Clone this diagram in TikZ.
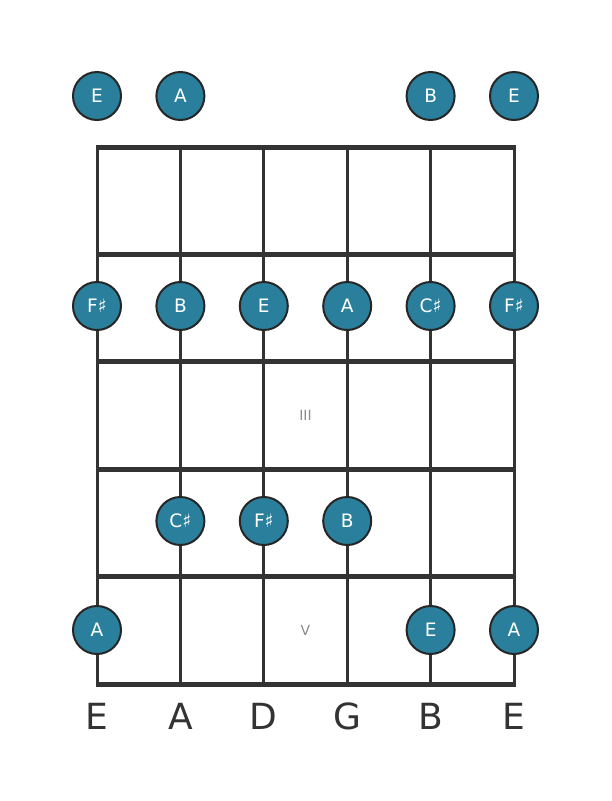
\documentclass[tikz,border=0pt]{standalone}
\usepackage{fontspec}
\setmainfont{DejaVu Sans}
\definecolor{notefill}{HTML}{2A7F9C}
\definecolor{noteedge}{HTML}{262626}
\definecolor{gridcol}{HTML}{333333}
\definecolor{markcol}{HTML}{8A8A8A}
\begin{document}
\begin{tikzpicture}[x=1pt,y=-1pt,
  note/.style={circle,draw=noteedge,line width=2pt,fill=notefill,minimum size=48pt,inner sep=0pt,text=white,font=\fontsize{18.5}{18.5}\selectfont},
  fretline/.style={draw=gridcol,line width=5pt},
  stringline/.style={draw=gridcol,line width=3pt},
  strlabel/.style={text=gridcol,font=\fontsize{36}{36}\selectfont},
  fretmark/.style={text=markcol,font=\fontsize{14}{14}\selectfont}]
\useasboundingbox (0,0) rectangle (611,801);
% strings
\foreach \i/\x in {1/97,2/180.4,3/263.8,4/347.2,5/430.6,6/514}{
  \coordinate (st\i) at (\x,147);
  \coordinate (sb\i) at (\x,684);
  \draw[stringline] (st\i) -- (sb\i);
}
% frets
\foreach \j/\y in {0/147,1/254.4,2/361.8,3/469.2,4/576.6,5/684}{
  \coordinate (fl\j) at (95.5,\y);
  \coordinate (fr\j) at (515.5,\y);
  \draw[fretline] (fl\j) -- (fr\j);
}
% fret markers
\node[fretmark] (m3) at (305.5,415.5) {III};
\node[fretmark] (m5) at (305.5,630.3) {V};
% open notes
\node[note] (o1) at (97,96) {E};
\node[note] (o2) at (180.4,96) {A};
\node[note] (o5) at (430.6,96) {B};
\node[note] (o6) at (514,96) {E};
% fret 2
\node[note] (a1) at (97,306) {F♯};
\node[note] (a2) at (180.4,306) {B};
\node[note] (a3) at (263.8,306) {E};
\node[note] (a4) at (347.2,306) {A};
\node[note] (a5) at (430.6,306) {C♯};
\node[note] (a6) at (514,306) {F♯};
% fret 4
\node[note] (b2) at (180.4,521) {C♯};
\node[note] (b3) at (263.8,521) {F♯};
\node[note] (b4) at (347.2,521) {B};
% fret 5
\node[note] (c1) at (97,630) {A};
\node[note] (c5) at (430.6,630) {E};
\node[note] (c6) at (514,630) {A};
% string names
\node[strlabel] (l1) at (97,716) {E};
\node[strlabel] (l2) at (180.4,716) {A};
\node[strlabel] (l3) at (263.8,716) {D};
\node[strlabel] (l4) at (347.2,716) {G};
\node[strlabel] (l5) at (430.6,716) {B};
\node[strlabel] (l6) at (514,716) {E};
\end{tikzpicture}
\end{document}
